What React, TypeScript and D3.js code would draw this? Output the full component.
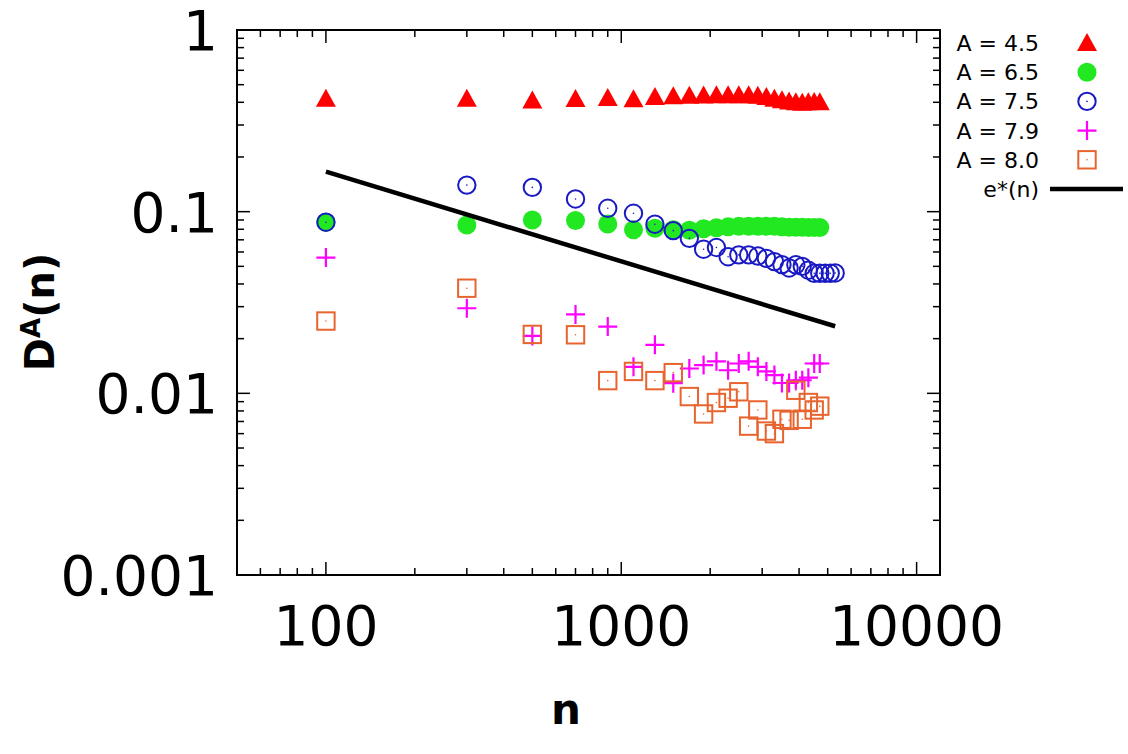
import * as d3 from "d3";

// x positions (n) for the simulated points
const nValues = [100, 300, 500, 700, 900, 1100, 1300, 1500, 1700, 1900, 2100, 2300, 2500, 2700, 2900, 3100, 3300, 3500, 3700, 3900, 4100, 4300, 4500, 4700];
const nValuesLong = [...nValues, 4900, 5100, 5300];

// D^A(n) per series
const a45 = [0.419, 0.419, 0.409, 0.417, 0.422, 0.416, 0.428, 0.432, 0.434, 0.436, 0.437, 0.438, 0.438, 0.437, 0.435, 0.428, 0.418, 0.41, 0.404, 0.4, 0.398, 0.4, 0.402, 0.4];
const a65 = [0.0875, 0.0845, 0.09, 0.0895, 0.0855, 0.0795, 0.0811, 0.0795, 0.079, 0.0805, 0.0815, 0.0825, 0.083, 0.0832, 0.0832, 0.0832, 0.083, 0.0826, 0.0822, 0.082, 0.082, 0.0818, 0.0818, 0.0818];
const a75 = [0.0875, 0.14, 0.136, 0.1175, 0.1044, 0.098, 0.0853, 0.0786, 0.0713, 0.0621, 0.0635, 0.0565, 0.0578, 0.0578, 0.057, 0.0553, 0.0531, 0.0511, 0.049, 0.051, 0.05, 0.0476, 0.0458, 0.0458, 0.0458, 0.0458, 0.046];
const a79 = [0.0559, 0.0294, 0.0207, 0.0272, 0.0233, 0.014, 0.0185, 0.01137, 0.0137, 0.0143, 0.015, 0.0134, 0.0146, 0.015, 0.014, 0.0132, 0.0126, 0.0114, 0.0114, 0.0118, 0.0118, 0.0122, 0.0146, 0.0146];
const a80 = [0.025, 0.0379, 0.0211, 0.021, 0.01175, 0.0132, 0.01175, 0.013, 0.0096, 0.0077, 0.0089, 0.0094, 0.0102, 0.0066, 0.0081, 0.0062, 0.006, 0.0072, 0.0071, 0.0104, 0.0072, 0.0089, 0.0081, 0.0085];

// e*(n) reference line end points
const eStar: [number, number][] = [[100, 0.166], [5300, 0.0234]];

const xTicks = [100, 1000, 10000];
const yTicks = [1, 0.1, 0.01, 0.001];
const yTickLabels = ["1", "0.1", "0.01", "0.001"];

const legendLabels = ["A = 4.5", "A = 6.5", "A = 7.5", "A = 7.9", "A = 8.0", "e*(n)"];

const RED = "#ff0000";
const GREEN = "#22e822";
const BLUE = "#1a1ac4";
const MAGENTA = "#ff00ff";
const ORANGE = "#e8642e";

const W = 1128;
const H = 754;
const margin = { left: 237, right: 940, top: 30, bottom: 575 };
const FONT = "'DejaVu Sans', sans-serif";

const x = d3.scaleLog().domain([50, 12000]).range([margin.left, margin.right]);
const y = d3.scaleLog().domain([0.001, 1]).range([margin.bottom, margin.top]);

type Kind = "tri" | "dot" | "ring" | "plus" | "box";

const Marker = ({ kind, cx, cy }: { kind: Kind; cx: number; cy: number }) => {
  switch (kind) {
    case "tri":
      return <path d={`M${cx},${cy - 10} L${cx + 10},${cy + 8} L${cx - 10},${cy + 8} Z`} fill={RED} />;
    case "dot":
      return <circle cx={cx} cy={cy} r={9.5} fill={GREEN} />;
    case "ring":
      return (
        <g>
          <circle cx={cx} cy={cy} r={8.7} fill="none" stroke={BLUE} strokeWidth={2} />
          <circle cx={cx} cy={cy} r={0.8} fill={BLUE} />
        </g>
      );
    case "plus":
      return <path d={`M${cx - 9.5},${cy} H${cx + 9.5} M${cx},${cy - 9.5} V${cy + 9.5}`} stroke={MAGENTA} strokeWidth={2.2} />;
    case "box":
      return (
        <g>
          <rect x={cx - 8.7} y={cy - 8.7} width={17.4} height={17.4} fill="none" stroke={ORANGE} strokeWidth={2} />
          <circle cx={cx} cy={cy} r={0.8} fill={ORANGE} />
        </g>
      );
  }
};

const series: { kind: Kind; ns: number[]; vals: number[] }[] = [
  { kind: "tri", ns: nValues, vals: a45 },
  { kind: "dot", ns: nValues, vals: a65 },
  { kind: "ring", ns: nValuesLong, vals: a75 },
  { kind: "plus", ns: nValues, vals: a79 },
  { kind: "box", ns: nValues, vals: a80 },
];

// minor tick positions for log axes
const xMinor: number[] = [];
for (const base of [10, 100, 1000, 10000]) {
  for (let k = 2; k <= 9; k++) {
    const v = base * k;
    if (v >= 50 && v <= 12000 && !xTicks.includes(v)) xMinor.push(v);
  }
}
const yMinor: number[] = [];
for (const base of [0.001, 0.01, 0.1]) {
  for (let k = 2; k <= 9; k++) yMinor.push(base * k);
}

const line = d3.line<[number, number]>().x(d => x(d[0])).y(d => y(d[1]));

const App = () => {
  const major = 13;
  const minor = 7;
  const legendY = (i: number) => 43 + i * 29.2;

  return (
    <svg width={W} height={H} style={{ position: "absolute", left: 0, top: 0, background: "white" }} fontFamily={FONT}>
      {/* ticks, inward on all four sides */}
      <g stroke="black" strokeWidth={1.5}>
        {xTicks.map(t => (
          <g key={`xt${t}`}>
            <line x1={x(t)} x2={x(t)} y1={margin.bottom} y2={margin.bottom - major} />
            <line x1={x(t)} x2={x(t)} y1={margin.top} y2={margin.top + major} />
          </g>
        ))}
        {xMinor.map(t => (
          <g key={`xm${t}`}>
            <line x1={x(t)} x2={x(t)} y1={margin.bottom} y2={margin.bottom - minor} />
            <line x1={x(t)} x2={x(t)} y1={margin.top} y2={margin.top + minor} />
          </g>
        ))}
        {yTicks.map(t => (
          <g key={`yt${t}`}>
            <line x1={margin.left} x2={margin.left + major} y1={y(t)} y2={y(t)} />
            <line x1={margin.right} x2={margin.right - major} y1={y(t)} y2={y(t)} />
          </g>
        ))}
        {yMinor.map(t => (
          <g key={`ym${t}`}>
            <line x1={margin.left} x2={margin.left + minor} y1={y(t)} y2={y(t)} />
            <line x1={margin.right} x2={margin.right - minor} y1={y(t)} y2={y(t)} />
          </g>
        ))}
      </g>
      <rect
        x={margin.left}
        y={margin.top}
        width={margin.right - margin.left}
        height={margin.bottom - margin.top}
        fill="none"
        stroke="black"
        strokeWidth={2}
      />

      {/* tick labels */}
      {xTicks.map(t => (
        <text key={`xl${t}`} x={x(t)} y={645} textAnchor="middle" fontSize={55}>
          {t}
        </text>
      ))}
      {yTicks.map((t, i) => (
        <text key={`yl${t}`} x={218} y={y(t) + 20} textAnchor="end" fontSize={55}>
          {yTickLabels[i]}
        </text>
      ))}

      {/* axis titles */}
      <text x={566} y={724} textAnchor="middle" fontSize={42} fontWeight="bold">
        n
      </text>
      <text transform="translate(54,312) rotate(-90)" textAnchor="middle" fontSize={40} fontWeight="bold">
        D<tspan fontSize={26} dy={-14}>A</tspan>
        <tspan dy={14}>(n)</tspan>
      </text>

      {/* data */}
      {series.map((s, si) => (
        <g key={`s${si}`}>
          {s.vals.map((v, i) => (
            <Marker key={i} kind={s.kind} cx={x(s.ns[i])} cy={y(v)} />
          ))}
        </g>
      ))}
      <path d={line(eStar) ?? ""} fill="none" stroke="black" strokeWidth={4.5} />

      {/* legend */}
      {legendLabels.map((lab, i) => (
        <text key={lab} x={1039} y={legendY(i) + 8} textAnchor="end" fontSize={22}>
          {lab}
        </text>
      ))}
      {series.map((s, i) => (
        <Marker key={`lg${i}`} kind={s.kind} cx={1087} cy={legendY(i)} />
      ))}
      <line x1={1050} x2={1123} y1={legendY(5)} y2={legendY(5)} stroke="black" strokeWidth={4.5} />
    </svg>
  );
};

export default App;
